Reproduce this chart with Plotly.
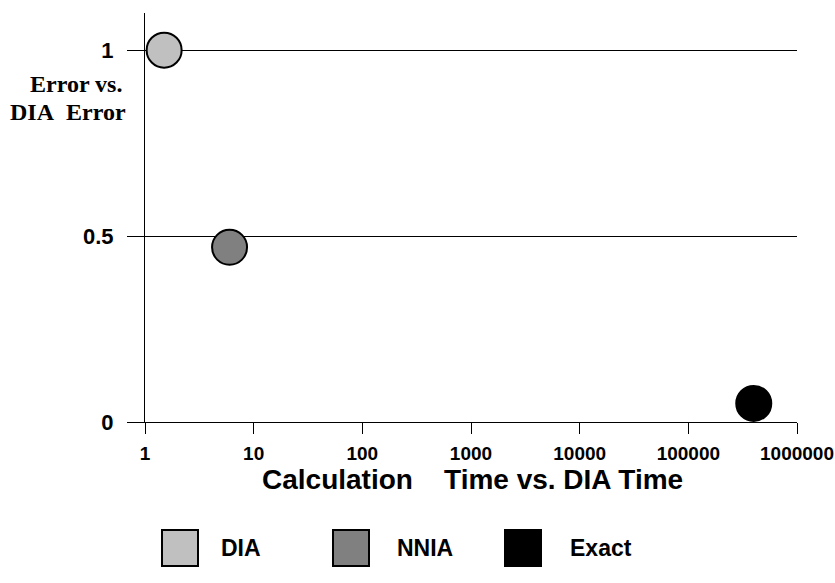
import plotly.graph_objects as go

# Data
methods = ["DIA", "NNIA", "Exact"]
calc_time = [1.5, 6, 400000]          # calculation time vs. DIA time
error_ratio = [1.0, 0.47, 0.05]       # error vs. DIA error
colors = ["#c0c0c0", "#808080", "#000000"]

x_tickvals = [1, 10, 100, 1000, 10000, 100000, 1000000]
x_ticktext = ["1", "10", "100", "1000", "10000", "100000", "1000000"]
y_tickvals = [0, 0.5, 1]
y_ticktext = ["0", "0.5", "1"]

fig = go.Figure()
for name, xv, yv, c in zip(methods, calc_time, error_ratio, colors):
    fig.add_trace(go.Scatter(
        x=[xv], y=[yv], mode="markers", name=name,
        marker=dict(size=35, color=c, line=dict(color="black", width=2)),
        showlegend=False, cliponaxis=False,
    ))

sans = "Liberation Sans, Arial, sans-serif"
xtickfont = dict(family=sans, size=19, color="black", weight="bold")
ytickfont = dict(family=sans, size=22, color="black", weight="bold")

L, R, T, B = 145, 797, 13, 422   # plot area in pixels
W = R - L
H = B - T

def px(x):
    return (x - L) / W

def py(y):
    return (B - y) / H

fig.update_layout(
    width=835, height=583,
    margin=dict(l=L, r=835 - R, t=T, b=583 - B, autoexpand=False),
    paper_bgcolor="white", plot_bgcolor="white",
    xaxis=dict(
        type="log", range=[0, 6],
        tickvals=x_tickvals, ticktext=x_ticktext,
        ticks="outside", ticklen=11, tickwidth=1, tickcolor="black",
        showline=True, linecolor="black", linewidth=1,
        showgrid=False, zeroline=False, tickfont=xtickfont,
        ticklabelstandoff=3, automargin=False,
    ),
    yaxis=dict(
        range=[0, 1.1],
        tickvals=y_tickvals, ticktext=y_ticktext,
        ticks="outside", ticklen=17, tickwidth=1, tickcolor="black",
        showline=True, linecolor="black", linewidth=1,
        showgrid=True, gridcolor="black", gridwidth=1,
        zeroline=False, tickfont=ytickfont,
        ticklabelstandoff=9, automargin=False,
    ),
)

# Axis titles
serif = dict(family="Liberation Serif, Times New Roman, serif", size=24, color="black", weight="bold")
fig.add_annotation(
    xref="paper", yref="paper", x=px(76), y=py(84),
    xanchor="center", yanchor="middle", showarrow=False,
    text="Error vs.", font=serif,
)
fig.add_annotation(
    xref="paper", yref="paper", x=px(68), y=py(112),
    xanchor="center", yanchor="middle", showarrow=False,
    text="DIA\u00a0\u00a0Error", font=serif,
)
fig.add_annotation(
    xref="paper", yref="paper", x=px(472), y=py(480),
    xanchor="center", yanchor="middle", showarrow=False,
    text="Calculation\u00a0\u00a0\u00a0\u00a0Time vs. DIA Time",
    font=dict(family=sans, size=28, color="black", weight="bold"),
)

# Legend (manual, large square swatches)
leg_sq_x = [162, 333, 505]
leg_tx_x = [219, 395, 568]
for name, c, x0, tx in zip(methods, colors, leg_sq_x, leg_tx_x):
    fig.add_shape(
        type="rect", xref="paper", yref="paper",
        x0=px(x0), x1=px(x0 + 36), y0=py(566), y1=py(530),
        fillcolor=c, line=dict(color="black", width=2),
    )
    fig.add_annotation(
        xref="paper", yref="paper", x=px(tx), y=py(548),
        xanchor="left", yanchor="middle", showarrow=False, text=name,
        font=dict(family=sans, size=23, color="black", weight="bold"),
    )

fig.write_html(
    "out.html",
    config={"displayModeBar": False},
    post_script="document.body.style.margin='0';document.body.style.overflow='hidden';",
)
